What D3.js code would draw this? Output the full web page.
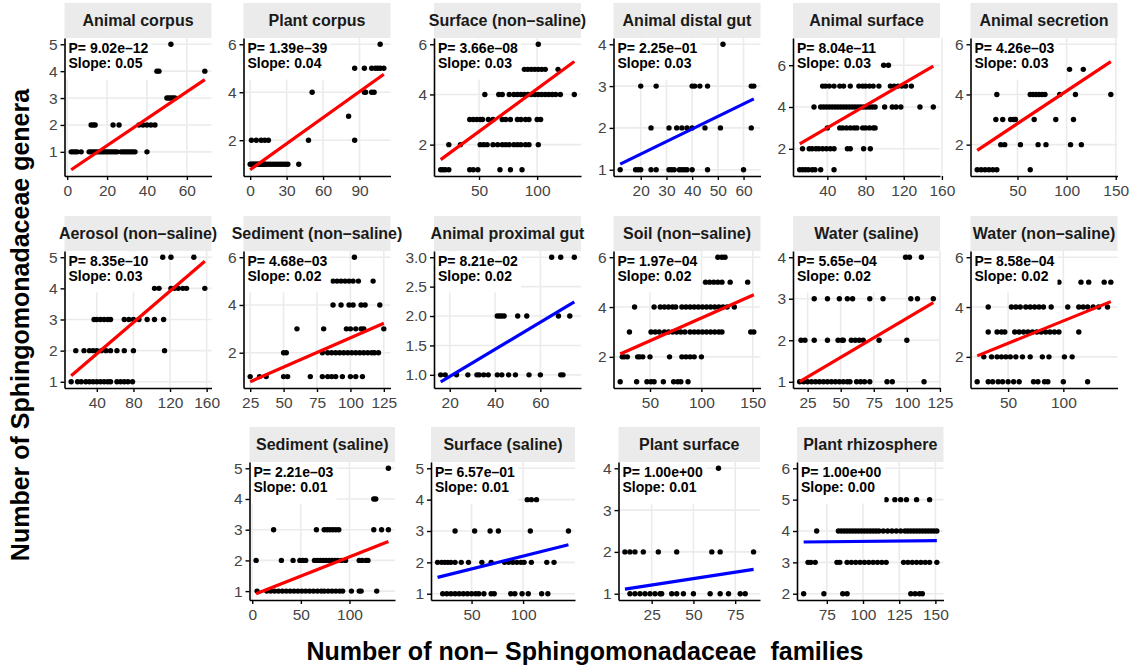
<!DOCTYPE html>
<html>
<head>
<meta charset="utf-8">
<script src="https://cdn.jsdelivr.net/npm/d3@7"></script>
<style>
  html, body { margin: 0; padding: 0; background: #ffffff; }
  svg { display: block; font-family: "Liberation Sans", Arial, Helvetica, sans-serif; }
</style>
</head>
<body>
<svg id="chart" width="1131" height="666"></svg>
<script>
// ---- facet labels and model summaries ----
const facetNames = [
  "Animal corpus", "Plant corpus", "Surface (non\u2013saline)", "Animal distal gut", "Animal surface", "Animal secretion",
  "Aerosol (non\u2013saline)", "Sediment (non\u2013saline)", "Animal proximal gut", "Soil (non\u2013saline)", "Water (saline)", "Water (non\u2013saline)",
  "Sediment (saline)", "Surface (saline)", "Plant surface", "Plant rhizosphere"
];
const pValues = [
  9.02e-12, 1.39e-39, 3.66e-08, 2.25e-01, 8.04e-11, 4.26e-03,
  8.35e-10, 4.68e-03, 8.21e-02, 1.97e-04, 5.65e-04, 8.58e-04,
  2.21e-03, 6.57e-01, 1.00e+00, 1.00e+00
];
const slopes = [
  0.0500, 0.0362, 0.0340, 0.0300, 0.0265, 0.0260,
  0.0252, 0.0245, 0.0230, 0.0183, 0.0188, 0.0180,
  0.0125, 0.0082, 0.0061, 0.0005
];
const intercepts = [
  0.235, 0.770, 0.825, 0.775, 1.950, 1.540,
  0.890, 0.170, 0.514, 1.730, 0.648, 1.644,
  0.865, 1.382, 1.057, 3.620
];

// ---- axis breaks per facet ----
const xTickValues = [
  [0, 20, 40, 60], [0, 30, 60, 90], [50, 100], [20, 30, 40, 50, 60], [40, 80, 120, 160], [50, 100, 150],
  [40, 80, 120, 160], [25, 50, 75, 100, 125], [20, 40, 60], [50, 100, 150], [25, 50, 75, 100, 125], [50, 100],
  [0, 50, 100], [50, 100], [25, 50, 75], [75, 100, 125, 150]
];
const yTickValues = [
  [1, 2, 3, 4, 5], [2, 4, 6], [2, 4, 6], [1, 2, 3, 4], [2, 4, 6], [2, 4, 6],
  [1, 2, 3, 4, 5], [2, 4, 6], [1.0, 1.5, 2.0, 2.5, 3.0], [2, 4, 6], [1, 2, 3, 4], [2, 4, 6],
  [1, 2, 3, 4, 5], [1, 2, 3, 4, 5], [1, 2, 3, 4], [2, 3, 4, 5, 6]
];

// ---- observations: [genera count, [family counts ...]] ----
const ptsAnimalCorpus = [
  [5, [52]],
  [4, [45, 46, 69]],
  [3, [50, 51, 52, 53, 54]],
  [2, [12, 13, 14, 23, 26, 36, 38, 40, 42, 44]],
  [1, [2, 3, 4, 5, 7, 11, 12, 13, 14, 15, 16, 17, 18, 19, 20, 21, 22, 23, 24, 25, 27, 28, 29, 30, 31, 32, 33, 34, 40]]
];
const ptsPlantCorpus = [
  [6, [107]],
  [5, [86, 94, 100, 103, 105, 107, 110]],
  [4, [51, 94, 95, 100, 102]],
  [3, [81]],
  [2, [1, 5, 9, 12, 15, 48, 86]],
  [1, [0, 1, 2, 3, 4, 5, 6, 7, 8, 9, 10, 11, 12, 13, 15, 17, 19, 21, 23, 25, 27, 29, 31, 40]]
];
const ptsSurfaceNonSaline = [
  [6, [101]],
  [5, [89, 92, 95, 98, 101, 104, 107, 118]],
  [4, [55, 67, 70, 76, 80, 83, 86, 89, 92, 95, 98, 101, 104, 107, 110, 113, 116, 120, 132]],
  [3, [42, 45, 48, 51, 53, 58, 62, 70, 73, 77, 83, 86, 90, 93, 100, 103]],
  [2, [24, 34, 51, 54, 57, 62, 66, 70, 73, 76, 80, 83, 86, 90, 93, 101]],
  [1, [17, 19, 21, 24, 42, 45, 49, 68, 77, 87]]
];
const ptsAnimalDistalGut = [
  [4, [52]],
  [3, [20, 26, 40, 41, 43, 46, 63, 64]],
  [2, [24, 31, 34, 36, 38, 40, 45, 51, 63]],
  [1, [12, 18, 19, 20, 24, 26, 31, 32, 33, 35, 36, 37, 38, 40, 46, 60]]
];
const ptsAnimalSurface = [
  [7, [20]],
  [6, [99, 104]],
  [5, [35, 38, 42, 47, 53, 57, 64, 73, 77, 80, 84, 88, 94, 106, 110, 114, 118, 122, 128]],
  [4, [26, 33, 36, 39, 42, 45, 48, 51, 54, 57, 60, 63, 66, 69, 72, 75, 78, 81, 84, 87, 90, 100, 108, 112, 117, 137, 151]],
  [3, [40, 53, 56, 60, 64, 68, 71, 77, 80, 84, 88, 90]],
  [2, [14, 21, 24, 28, 31, 35, 39, 43, 47, 61, 64, 78, 85]],
  [1, [11, 14, 17, 20, 24, 27, 33, 47]]
];
const ptsAnimalSecretion = [
  [6, [25]],
  [5, [103, 117]],
  [4, [29, 63, 66, 69, 72, 75, 78, 93, 109, 145]],
  [3, [28, 35, 43, 46, 48, 67, 89, 107]],
  [2, [33, 37, 53, 71, 79, 104, 115]],
  [1, [9, 13, 17, 21, 25, 29, 63]]
];
const ptsAerosolNonSaline = [
  [5, [112, 121, 146]],
  [4, [103, 108, 121, 125, 129, 134, 138, 158]],
  [3, [37, 40, 44, 48, 52, 55, 70, 75, 80, 86, 95, 103, 113]],
  [2, [17, 26, 32, 36, 40, 45, 50, 55, 62, 70, 80, 114]],
  [1, [12, 19, 23, 28, 32, 36, 40, 44, 48, 52, 55, 62, 66, 70, 74, 79]]
];
const ptsSedimentNonSaline = [
  [6, [103]],
  [5, [87, 90, 93, 96, 99, 102, 106, 117]],
  [4, [87, 93, 99, 102, 108, 111, 122]],
  [3, [60, 80, 97, 100, 104, 108, 110, 125]],
  [2, [50, 52, 79, 83, 86, 89, 92, 95, 98, 101, 104, 107, 110, 113, 116, 118, 121]],
  [1, [25, 32, 37, 50, 53, 70, 79, 83, 86, 89, 94, 100, 104, 109]]
];
const ptsAnimalProximalGut = [
  [3, [65, 69, 75]],
  [2, [41, 42, 43, 44, 50, 54, 68, 73]],
  [1, [16, 18, 23, 28, 32, 33, 35, 37, 41, 43, 46, 49, 55, 60, 69, 70]]
];
const ptsSoilNonSaline = [
  [6, [116, 120, 123]],
  [5, [104, 108, 112, 116, 120, 128, 145]],
  [4, [35, 54, 60, 64, 68, 72, 75, 81, 85, 89, 93, 97, 101, 105, 109, 113, 117, 121, 125, 132]],
  [3, [30, 51, 55, 59, 64, 68, 72, 76, 80, 84, 89, 93, 97, 101, 105, 109, 113, 117, 120, 148, 151]],
  [2, [23, 25, 28, 38, 40, 43, 50, 69, 81, 85, 89, 93, 100]],
  [1, [21, 37, 47, 51, 54, 63, 73, 77, 80, 87]]
];
const ptsWaterSaline = [
  [4, [99, 102, 111]],
  [3, [30, 40, 49, 55, 59, 72, 82, 103, 108, 120]],
  [2, [20, 23, 30, 40, 48, 51, 52, 58, 61, 64, 67, 79, 100]],
  [1, [19, 22, 25, 28, 31, 34, 37, 40, 43, 46, 49, 52, 55, 57, 62, 65, 68, 72, 85, 89, 113]]
];
const ptsWaterNonSaline = [
  [6, [30]],
  [5, [96, 116, 123, 137, 143]],
  [4, [32, 53, 57, 61, 66, 70, 74, 78, 82, 89, 104, 114, 118, 122, 127, 132, 140]],
  [3, [32, 40, 44, 47, 56, 60, 64, 68, 72, 76, 80, 84, 88, 92, 96, 114]],
  [2, [28, 35, 40, 44, 48, 52, 57, 63, 70, 81, 87, 101, 108]],
  [1, [22, 32, 36, 41, 45, 50, 55, 60, 73, 77, 83, 86, 100, 122]]
];
const ptsSedimentSaline = [
  [5, [140]],
  [4, [125, 127]],
  [3, [22, 66, 74, 77, 80, 83, 86, 89, 125, 133, 140]],
  [2, [4, 30, 42, 49, 52, 55, 64, 67, 70, 73, 76, 79, 82, 85, 88, 92, 96, 110, 113, 117, 119]],
  [1, [5, 15, 19, 23, 27, 31, 35, 39, 43, 47, 51, 55, 59, 63, 67, 71, 74, 78, 82, 86, 90, 93, 102, 110, 112, 128]]
];
const ptsSurfaceSaline = [
  [5, [25]],
  [4, [104, 108, 113]],
  [3, [34, 53, 68, 76, 107, 144]],
  [2, [17, 21, 24, 27, 30, 34, 40, 47, 60, 69, 82, 86, 90, 94, 98, 101, 108, 123, 130]],
  [1, [22, 26, 30, 34, 38, 42, 46, 50, 54, 57, 62, 69, 72, 88, 92, 99, 105, 118, 124]]
];
const ptsPlantSurface = [
  [4, [65]],
  [2, [9, 12, 15, 20, 29, 40, 61, 66, 86]],
  [1, [12, 15, 18, 21, 24, 27, 30, 31, 37, 40, 44, 50, 60, 66, 71, 78, 81]]
];
const ptsPlantRhizosphere = [
  [6, [62]],
  [5, [116, 122, 126, 130, 137, 146]],
  [4, [68, 83, 85, 87, 89, 91, 93, 95, 97, 99, 101, 103, 105, 107, 109, 111, 114, 117, 120, 123, 126, 129, 131, 133, 135, 137, 139, 141, 143, 145, 147, 149, 151]],
  [3, [62, 64, 67, 82, 84, 89, 92, 95, 98, 101, 104, 107, 110, 113, 116, 128, 131, 134, 137, 140, 143, 146, 151]],
  [2, [59, 73, 86, 89, 133, 136, 139, 141]]
];

const facetPoints = [
  ptsAnimalCorpus, ptsPlantCorpus, ptsSurfaceNonSaline, ptsAnimalDistalGut, ptsAnimalSurface, ptsAnimalSecretion,
  ptsAerosolNonSaline, ptsSedimentNonSaline, ptsAnimalProximalGut, ptsSoilNonSaline, ptsWaterSaline, ptsWaterNonSaline,
  ptsSedimentSaline, ptsSurfaceSaline, ptsPlantSurface, ptsPlantRhizosphere
];

// ---- page layout: plotting region of each facet ----
const rowTop = [38, 251, 462];
const rowHeight = [138, 137, 138];
const colLeft = [64.5, 243.5, 434, 613.5, 793, 970.5];
const lastRowLeft = [249.5, 431, 618.5, 797];
const lastRowWidth = [145.5, 144, 141.5, 146.5];
const panelBoxes = facetNames.map((_, i) => {
  if (i < 12) {
    const r = Math.floor(i / 6), c = i % 6;
    return { x: colLeft[c], y: rowTop[r], w: 147, h: rowHeight[r] };
  }
  const k = i - 12;
  return { x: lastRowLeft[k], y: rowTop[2], w: lastRowWidth[k], h: rowHeight[2] };
});
const stripHeight = 35;

const svg = d3.select("#chart");
svg.append("rect").attr("width", 1131).attr("height", 666).attr("fill", "#ffffff");

function formatP(p) {
  const [m, e] = p.toExponential(2).split("e");
  const ei = +e;
  return m + "e" + (ei < 0 ? "\u2013" : "+") + String(Math.abs(ei)).padStart(2, "0");
}

facetNames.forEach((name, i) => {
  const box = panelBoxes[i];
  const rows = facetPoints[i];
  const pts = [];
  rows.forEach(([yv, xs]) => xs.forEach(xv => pts.push([xv, yv])));

  const xExt = d3.extent(pts, d => d[0]);
  const fit = x => intercepts[i] + slopes[i] * x;
  const lineYs = [fit(xExt[0]), fit(xExt[1])];
  const yAll = pts.map(d => d[1]).concat(lineYs);
  const yExt = d3.extent(yAll);
  const xPad = (xExt[1] - xExt[0]) * 0.05;
  const yPad = (yExt[1] - yExt[0]) * 0.05;

  const x = d3.scaleLinear().domain([xExt[0] - xPad, xExt[1] + xPad]).range([box.x, box.x + box.w]);
  const y = d3.scaleLinear().domain([yExt[0] - yPad, yExt[1] + yPad]).range([box.y + box.h, box.y]);

  const g = svg.append("g").attr("class", "facet");

  // grid
  const grid = g.append("g").attr("stroke", "#EBEBEB").attr("stroke-width", 1.6);
  xTickValues[i].forEach(t => grid.append("line")
    .attr("x1", x(t)).attr("x2", x(t)).attr("y1", box.y).attr("y2", box.y + box.h));
  yTickValues[i].forEach(t => grid.append("line")
    .attr("x1", box.x).attr("x2", box.x + box.w).attr("y1", y(t)).attr("y2", y(t)));

  // observations
  g.append("g").selectAll("circle").data(pts).join("circle")
    .attr("cx", d => x(d[0])).attr("cy", d => y(d[1])).attr("r", 2.7).attr("fill", "#000000");

  // fitted trend
  const lineFn = d3.line().x(d => x(d[0])).y(d => y(d[1]));
  g.append("path")
    .attr("d", lineFn([[xExt[0], lineYs[0]], [xExt[1], lineYs[1]]]))
    .attr("fill", "none")
    .attr("stroke", pValues[i] < 0.05 ? "#FF0000" : "#0000FF")
    .attr("stroke-width", 3.2);

  // statistics label on a white box
  const lab = g.append("g");
  const bg = lab.append("rect").attr("fill", "#ffffff");
  const txt = lab.append("text").attr("font-size", 14).attr("font-weight", "bold").attr("fill", "#000000");
  txt.append("tspan").attr("x", box.x + 4).attr("y", box.y + 15).text("P= " + formatP(pValues[i]));
  txt.append("tspan").attr("x", box.x + 4).attr("y", box.y + 30).text("Slope: " + slopes[i].toFixed(2));
  const bb = txt.node().getBBox();
  bg.attr("x", box.x + 0.5).attr("y", box.y + 0.5)
    .attr("width", bb.x + bb.width + 2.5 - box.x)
    .attr("height", 41);

  // axes
  const yFmt = yTickValues[i].some(t => !Number.isInteger(t)) ? d3.format(".1f") : d3.format("d");
  const axL = g.append("g").attr("transform", `translate(${box.x},0)`)
    .call(d3.axisLeft(y).tickValues(yTickValues[i]).tickFormat(yFmt).tickSize(4).tickSizeOuter(0).tickPadding(3));
  const axB = g.append("g").attr("transform", `translate(0,${box.y + box.h})`)
    .call(d3.axisBottom(x).tickValues(xTickValues[i]).tickFormat(d3.format("d")).tickSize(4).tickSizeOuter(0).tickPadding(5));
  [axL, axB].forEach(ax => {
    ax.select(".domain").attr("stroke", "#000000").attr("stroke-width", 1.6);
    ax.selectAll(".tick line").attr("stroke", "#000000").attr("stroke-width", 1.4);
    ax.selectAll(".tick text").attr("font-size", 15.5).attr("fill", "#444444")
      .attr("font-family", '"Liberation Sans", Arial, Helvetica, sans-serif');
  });

  // strip
  g.append("rect")
    .attr("x", box.x).attr("y", box.y - stripHeight)
    .attr("width", box.w).attr("height", stripHeight)
    .attr("fill", "#EBEBEB");
  g.append("text")
    .attr("x", box.x + box.w / 2).attr("y", box.y - stripHeight / 2 + 5.7)
    .attr("text-anchor", "middle").attr("font-size", 16).attr("font-weight", "bold").attr("fill", "#1A1A1A")
    .text(name);
});

// axis titles
svg.append("text")
  .attr("transform", "translate(29,325) rotate(-90)")
  .attr("text-anchor", "middle").attr("font-size", 25).attr("font-weight", "bold").attr("fill", "#000000")
  .text("Number of Sphingomonadaceae genera");
svg.append("text")
  .attr("x", 585).attr("y", 660)
  .attr("text-anchor", "middle").attr("font-size", 25).attr("font-weight", "bold").attr("fill", "#000000")
  .style("white-space", "pre")
  .text("Number of non\u2013 Sphingomonadaceae  families");
</script>
</body>
</html>
